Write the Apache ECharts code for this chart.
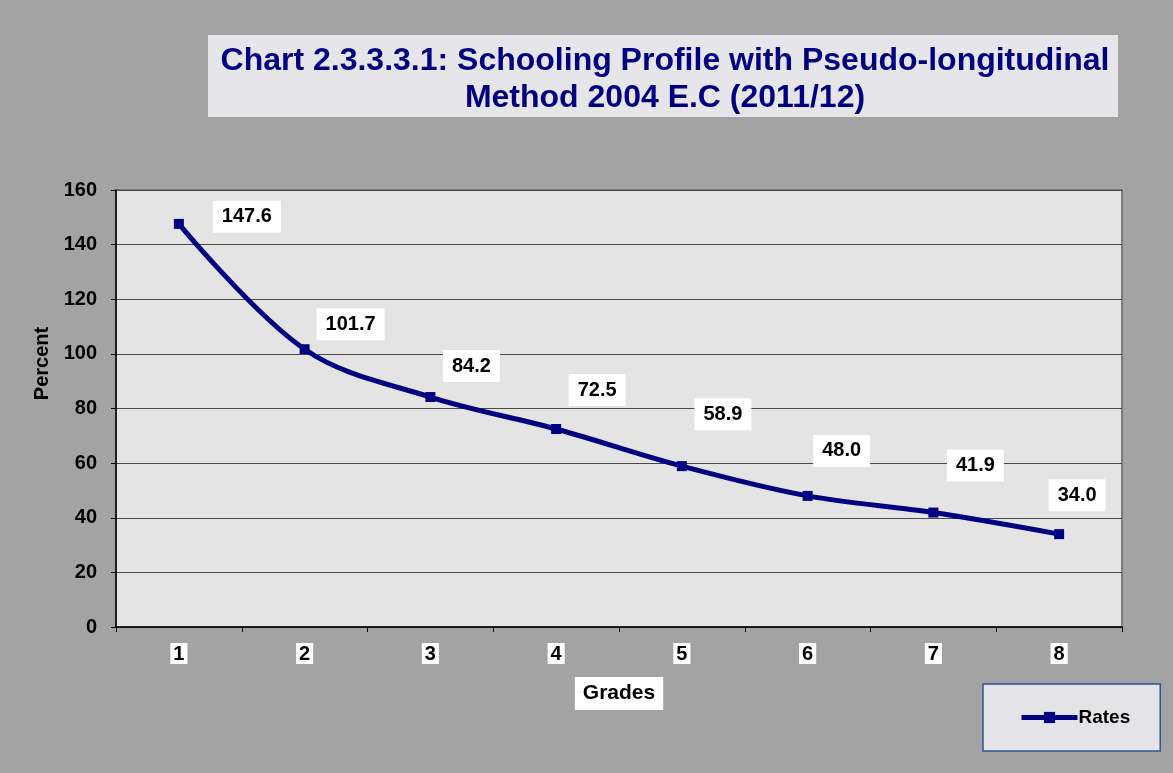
<!DOCTYPE html>
<html>
<head>
<meta charset="utf-8">
<script src="https://cdn.jsdelivr.net/npm/echarts@6/dist/echarts.min.js"></script>
<style>
  html, body { margin: 0; padding: 0; background: #a3a3a3; }
  #chart { width: 1173px; height: 773px; }
</style>
</head>
<body>
<div id="chart"></div>
<script>
// chart data
var grades = ['1', '2', '3', '4', '5', '6', '7', '8']
var rates = [147.6, 101.7, 84.2, 72.5, 58.9, 48.0, 41.9, 34.0]
var titleLines = ['Chart 2.3.3.3.1: Schooling Profile with Pseudo-longitudinal', 'Method 2004 E.C (2011/12)']

// label boxes were dragged by hand in the original, keep that nudge (px from the point)
var labelShift = [[68, -7], [46, -25], [41, -31], [41, -39], [41, -52], [34, -45], [42, -47], [18, -39]]

var navy = '#000080'
var font = 'Liberation Sans, Arial, sans-serif'
var chart = echarts.init(document.getElementById('chart'))

var points = rates.map(function (v, i) {
  return { value: v, label: { offset: labelShift[i] } }
})

chart.setOption({
  backgroundColor: '#a3a3a3',
  animation: false,
  graphic: [
    {
      type: 'rect',
      z: 0,
      shape: { x: 208, y: 35, width: 910, height: 82 },
      style: { fill: '#e6e6ea' }
    }
  ],
  title: {
    text: titleLines.join('\n'),
    left: 660,
    top: 38,
    textAlign: 'center',
    textStyle: {
      fontFamily: font,
      fontSize: 32,
      fontWeight: 'bold',
      color: navy,
      lineHeight: 37
    }
  },
  grid: {
    left: 116,
    right: 51,
    top: 190,
    bottom: 146,
    show: true,
    backgroundColor: '#e4e4e4',
    borderColor: '#7a7a7a',
    borderWidth: 2
  },
  legend: {
    data: ['Rates'],
    left: 983,
    top: 684,
    backgroundColor: '#e4e4e6',
    borderColor: '#3050a0',
    borderWidth: 1.5,
    borderRadius: 0,
    padding: [24, 30, 24, 36],
    itemWidth: 56,
    itemHeight: 14,
    itemGap: 0,
    lineStyle: { width: 5 },
    textStyle: {
      fontFamily: font,
      fontSize: 19,
      fontWeight: 'bold',
      color: '#000',
      padding: [0, 0, 0, -4]
    }
  },
  xAxis: {
    type: 'category',
    data: grades,
    boundaryGap: true,
    name: 'Grades',
    nameLocation: 'middle',
    nameGap: 50,
    nameTextStyle: {
      fontFamily: font,
      fontSize: 21,
      fontWeight: 'bold',
      color: '#000',
      backgroundColor: '#fff',
      padding: [6, 8, 6, 8]
    },
    axisLine: { lineStyle: { color: '#000', width: 1.5 } },
    axisTick: { show: true, alignWithLabel: false, length: 5, lineStyle: { color: '#000' } },
    axisLabel: {
      margin: 16,
      fontFamily: font,
      fontSize: 20,
      fontWeight: 'bold',
      color: '#000',
      backgroundColor: '#fff',
      padding: [1, 3, 0, 3]
    }
  },
  yAxis: {
    type: 'value',
    min: 0,
    max: 160,
    interval: 20,
    name: 'Percent',
    nameLocation: 'middle',
    nameGap: 59,
    nameRotate: 90,
    nameTextStyle: {
      fontFamily: font,
      fontSize: 20,
      fontWeight: 'bold',
      color: '#000',
      padding: [0, 0, 0, 90]
    },
    axisLine: { show: true, lineStyle: { color: '#000', width: 1.5 } },
    axisTick: { show: true, length: 5, lineStyle: { color: '#000' } },
    splitLine: { show: true, lineStyle: { color: '#4a4a4a', width: 1 } },
    axisLabel: {
      margin: 19,
      fontFamily: font,
      fontSize: 20,
      fontWeight: 'bold',
      color: '#000'
    }
  },
  series: [
    {
      name: 'Rates',
      type: 'line',
      data: points,
      smooth: 0.35,
      symbol: 'rect',
      symbolSize: 10,
      lineStyle: { color: navy, width: 5 },
      itemStyle: { color: navy },
      label: {
        show: true,
        position: 'inside',
        formatter: function (p) { return p.value.toFixed(1) },
        fontFamily: font,
        fontSize: 20,
        fontWeight: 'bold',
        color: '#000',
        backgroundColor: '#fff',
        padding: [7, 9, 5, 9]
      }
    }
  ]
})
</script>
</body>
</html>
